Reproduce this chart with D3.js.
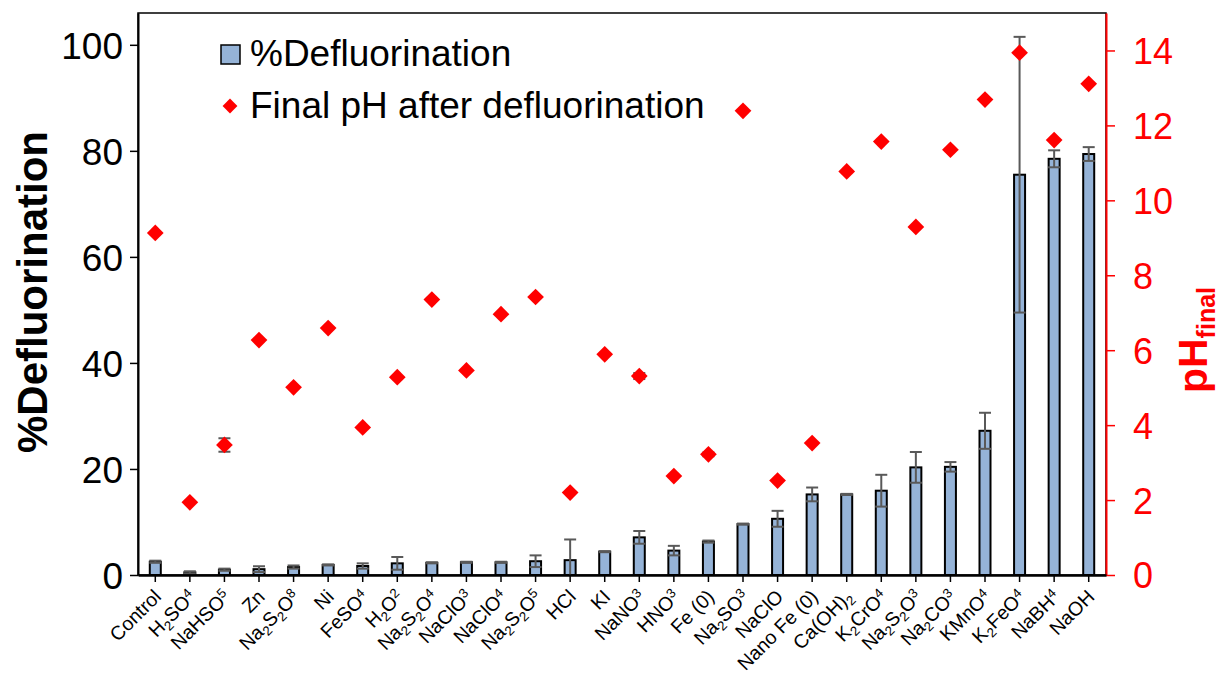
<!DOCTYPE html>
<html>
<head>
<meta charset="utf-8">
<script src="https://cdn.jsdelivr.net/npm/d3@7"></script>
<style>
  body { margin: 0; background: #fff; }
  svg { font-family: "Liberation Sans", Arial, sans-serif; }
</style>
</head>
<body>
<div id="chart"></div>
<script>
// category labels: "_d" = lowered digit, "^d" = raised digit (as printed in the figure)
const categories = ["Control", "H_2SO^4", "NaHSO^5", "Zn", "Na_2S_2O^8", "Ni", "FeSO^4", "H_2O^2",
  "Na_2S_2O^4", "NaClO^3", "NaClO^4", "Na_2S_2O^5", "HCl", "KI", "NaNO^3", "HNO^3", "Fe (0)",
  "Na_2SO^3", "NaClO", "Nano Fe (0)", "Ca(OH)_2", "K_2CrO^4", "Na_2S_2O^3", "Na_2CO^3", "KMnO^4",
  "K_2FeO^4", "NaBH^4", "NaOH"];

const defluorination = [2.5, 0.5, 1.0, 1.1, 1.5, 1.9, 1.7, 2.2, 2.3, 2.4, 2.4, 2.6, 2.8, 4.4, 7.1,
  4.6, 6.3, 9.6, 10.6, 15.2, 15.2, 15.9, 20.3, 20.4, 27.2, 75.5, 78.5, 79.4];
const defluorinationErr = [0.2, 0.2, 0.2, 0.55, 0.3, 0.1, 0.5, 1.2, 0.1, 0.1, 0.1, 1.1, 3.9, 0.1, 1.2,
  0.9, 0.2, 0.1, 1.5, 1.3, 0.1, 3.0, 2.9, 0.9, 3.4, 26.0, 1.6, 1.3];

const finalPH = [9.13, 1.94, 3.47, 6.27, 5.01, 6.59, 3.94, 5.28, 7.35, 5.46, 6.96, 7.42, 2.2, 5.89,
  5.31, 2.64, 3.22, 12.39, 2.52, 3.52, 10.77, 11.57, 9.29, 11.35, 12.69, 13.94, 11.61, 13.11];
const finalPHErr = [0, 0, 0.18, 0, 0, 0, 0, 0, 0, 0, 0, 0, 0, 0, 0.08, 0, 0.05, 0, 0, 0, 0, 0, 0, 0,
  0, 0, 0, 0];

const leftTicks = [0, 20, 40, 60, 80, 100];
const rightTicks = [0, 2, 4, 6, 8, 10, 12, 14];

const W = 1221, H = 673;
const m = { left: 138, right: 1106, top: 13, bottom: 575 };
const barColor = "#95B3D7";
const errColor = "#595959";
const red = "#FF0000";

const svg = d3.select("#chart").append("svg")
  .attr("width", W)
  .attr("height", H);

const x = d3.scaleBand().domain(categories).range([m.left, m.right]);
const y = d3.scaleLinear().domain([0, 106]).range([m.bottom, m.top]);
const yPH = d3.scaleLinear().domain([0, 15]).range([m.bottom, m.top]);
const cx = c => x(c) + x.bandwidth() / 2;

// writes a label with small lowered / raised digits
function richText(sel, str, size) {
  const parts = str.match(/[_^]\d|[^_^]+/g);
  let prev = 0;
  parts.forEach(p => {
    let s = 0, txt = p, fs = size;
    if (p[0] === "_") { s = 0.22 * size; txt = p[1]; fs = size * 0.68; }
    else if (p[0] === "^") { s = -0.3 * size; txt = p[1]; fs = size * 0.68; }
    sel.append("tspan").attr("dy", s - prev).attr("font-size", fs).text(txt);
    prev = s;
  });
}

// plot frame
svg.append("rect")
  .attr("x", m.left).attr("y", m.top)
  .attr("width", m.right - m.left).attr("height", m.bottom - m.top)
  .attr("fill", "none").attr("stroke", "#000").attr("stroke-width", 1.5);

// bars
const barW = 11;
svg.append("g").selectAll("rect")
  .data(categories)
  .join("rect")
  .attr("x", c => cx(c) - barW / 2)
  .attr("y", (c, i) => y(defluorination[i]))
  .attr("width", barW)
  .attr("height", (c, i) => m.bottom - y(defluorination[i]))
  .attr("fill", barColor)
  .attr("stroke", "#000")
  .attr("stroke-width", 2);

// error bars (bars)
const capW = 12;
const errG = svg.append("g").attr("stroke", errColor).attr("stroke-width", 2).attr("fill", "none");
categories.forEach((c, i) => {
  const e = defluorinationErr[i];
  if (!e) return;
  const hi = y(defluorination[i] + e);
  const loV = defluorination[i] - e;
  const lo = y(Math.max(0, loV));
  errG.append("line").attr("x1", cx(c)).attr("x2", cx(c)).attr("y1", hi).attr("y2", lo);
  errG.append("line").attr("x1", cx(c) - capW / 2).attr("x2", cx(c) + capW / 2).attr("y1", hi).attr("y2", hi);
  if (loV > 0) {
    errG.append("line").attr("x1", cx(c) - capW / 2).attr("x2", cx(c) + capW / 2).attr("y1", lo).attr("y2", lo);
  }
});

// error bars (pH)
categories.forEach((c, i) => {
  const e = finalPHErr[i];
  if (!e) return;
  const hi = yPH(finalPH[i] + e), lo = yPH(finalPH[i] - e);
  errG.append("line").attr("x1", cx(c)).attr("x2", cx(c)).attr("y1", hi).attr("y2", lo);
  [hi, lo].forEach(v => errG.append("line")
    .attr("x1", cx(c) - capW / 2).attr("x2", cx(c) + capW / 2).attr("y1", v).attr("y2", v));
});

// pH markers
const diamond = d3.symbol(d3.symbolSquare, 140);
svg.append("g").selectAll("path")
  .data(categories)
  .join("path")
  .attr("d", diamond)
  .attr("transform", (c, i) => `translate(${cx(c)},${yPH(finalPH[i])}) rotate(45)`)
  .attr("fill", red);

// left axis
const gl = svg.append("g")
  .attr("transform", `translate(${m.left},0)`)
  .call(d3.axisLeft(y).tickValues(leftTicks).tickSize(8).tickSizeOuter(0).tickPadding(7));
gl.select(".domain").attr("stroke", "#000").attr("stroke-width", 2);
gl.selectAll(".tick line").attr("stroke", "#000").attr("stroke-width", 1.5);
gl.selectAll(".tick text").attr("font-size", 37).attr("font-family", "Liberation Sans, Arial, sans-serif")
  .attr("fill", "#000").attr("dy", "0.36em");

// right axis
const gr = svg.append("g")
  .attr("transform", `translate(${m.right},0)`)
  .call(d3.axisRight(yPH).tickValues(rightTicks).tickSize(9).tickSizeOuter(0).tickPadding(18));
gr.select(".domain").attr("stroke", red).attr("stroke-width", 2);
gr.selectAll(".tick line").attr("stroke", red).attr("stroke-width", 1.5);
gr.selectAll(".tick text").attr("font-size", 36).attr("font-family", "Liberation Sans, Arial, sans-serif")
  .attr("fill", red).attr("dy", "0.36em");

// bottom axis
const gb = svg.append("g")
  .attr("transform", `translate(0,${m.bottom})`)
  .call(d3.axisBottom(x).tickSize(7).tickSizeOuter(0).tickFormat(""));
gb.select(".domain").attr("stroke", "#000").attr("stroke-width", 2.5);
gb.selectAll(".tick line").attr("stroke", "#000").attr("stroke-width", 1.5);

// category labels
svg.append("g").selectAll("text")
  .data(categories)
  .join("text")
  .attr("transform", c => `translate(${cx(c) + 7},${m.bottom + 23}) rotate(-45)`)
  .attr("text-anchor", "end")
  .attr("font-size", 19.5)
  .attr("fill", "#000")
  .each(function (c) { richText(d3.select(this), c, 19.5); });

// axis titles
svg.append("text")
  .attr("transform", `translate(47,292) rotate(-90)`)
  .attr("text-anchor", "middle")
  .attr("font-size", 42)
  .attr("font-weight", "bold")
  .attr("fill", "#000")
  .text("%Defluorination");

const rt = svg.append("text")
  .attr("transform", `translate(1207,340) rotate(-90)`)
  .attr("text-anchor", "middle")
  .attr("font-weight", "bold")
  .attr("fill", red);
rt.append("tspan").attr("font-size", 41).text("pH");
rt.append("tspan").attr("font-size", 25).attr("dy", 8).text("final");

// legend
const lg = svg.append("g");
lg.append("rect")
  .attr("x", 221).attr("y", 45).attr("width", 19).attr("height", 19)
  .attr("fill", barColor).attr("stroke", "#000").attr("stroke-width", 1.5);
lg.append("text").attr("x", 250).attr("y", 66).attr("font-size", 37).attr("fill", "#000")
  .text("%Defluorination");
lg.append("path")
  .attr("d", d3.symbol(d3.symbolSquare, 110))
  .attr("transform", "translate(230,106) rotate(45)")
  .attr("fill", red);
lg.append("text").attr("x", 250).attr("y", 118).attr("font-size", 37).attr("fill", "#000")
  .text("Final pH after defluorination");
</script>
</body>
</html>
